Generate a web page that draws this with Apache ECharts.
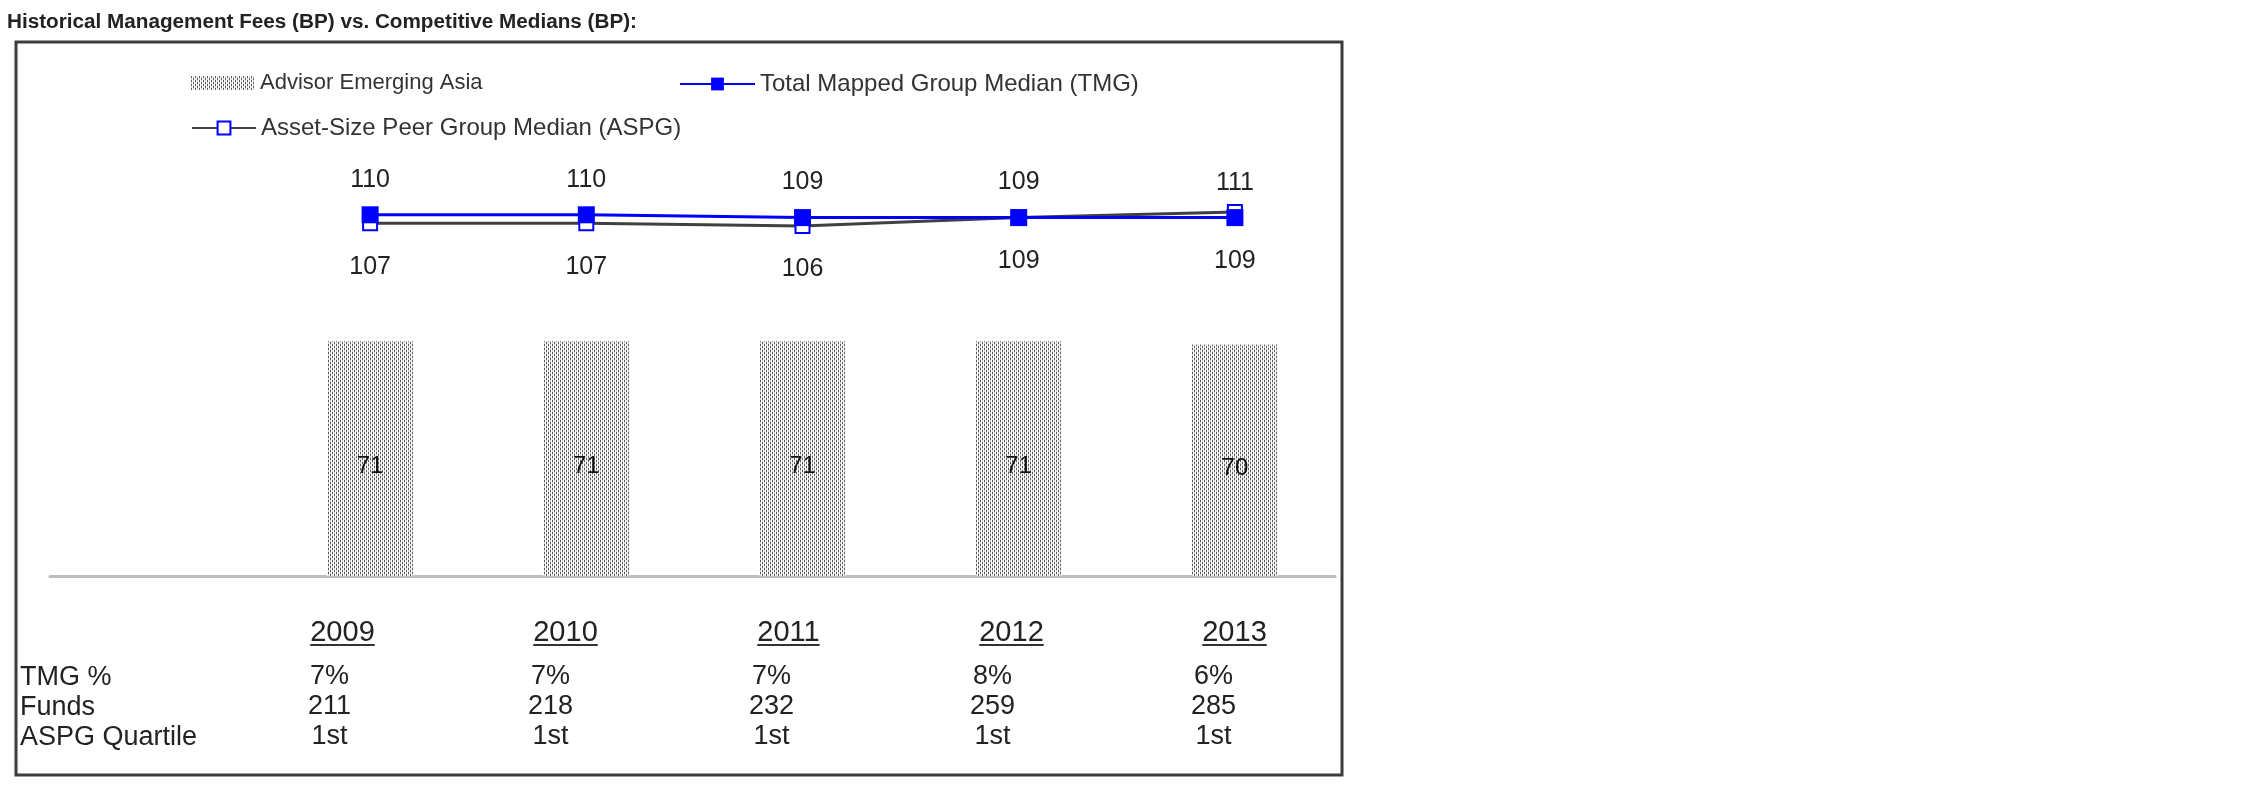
<!DOCTYPE html>
<html><head><meta charset="utf-8">
<script src="https://cdn.jsdelivr.net/npm/echarts@6/dist/echarts.min.js"></script>
<style>html,body{margin:0;padding:0;background:#fff}#c{width:2250px;height:796px}</style>
</head><body><div id="c"></div>
<script>
// ---- data ----
const years = ['2009', '2010', '2011', '2012', '2013'];
const advisorFees = [71, 71, 71, 71, 70];
const tmgMedian = [110, 110, 109, 109, 109];
const aspgMedian = [107, 107, 106, 109, 111];
const tmgPct = ['7%', '7%', '7%', '8%', '6%'];
const funds = ['211', '218', '232', '259', '285'];
const aspgQuartile = ['1st', '1st', '1st', '1st', '1st'];
const rowLabels = ['TMG %', 'Funds', 'ASPG Quartile'];
const titleText = 'Historical Management Fees (BP) vs. Competitive Medians (BP):';
const seriesNames = ['Advisor Emerging Asia', 'Total Mapped Group Median (TMG)', 'Asset-Size Peer Group Median (ASPG)'];

const FONT = 'Arial, "Liberation Sans", sans-serif';

function makePattern() {
  const c = document.createElement('canvas');
  c.width = 4; c.height = 4;
  const g = c.getContext('2d');
  g.fillStyle = '#ffffff'; g.fillRect(0, 0, 4, 4);
  g.fillStyle = '#5a5a5a'; g.fillRect(0, 0, 1, 2); g.fillRect(2, 2, 1, 2);
  g.fillStyle = '#d0d0d0'; g.fillRect(2, 0, 1, 2); g.fillRect(0, 2, 1, 2);
  return c;
}
const pattern = { image: makePattern(), repeat: 'repeat' };

// label placement: higher value above, lower below
const tmgData = tmgMedian.map((v, i) => {
  const up = v >= aspgMedian[i];
  return { value: v, label: { position: up ? 'top' : 'bottom', distance: up ? 14 : 23 } };
});
const aspgData = aspgMedian.map((v, i) => {
  const up = v > tmgMedian[i];
  return { value: v, label: { position: up ? 'top' : 'bottom', distance: up ? 8 : 23 } };
});

const chart = echarts.init(document.getElementById('c'), null, { renderer: 'canvas' });

const hiddenY = (g) => ({ type: 'value', gridIndex: g, min: 0, max: 1, show: false });
const tableAxis = (g, data, offset, fs) => ({
  type: 'category', gridIndex: g, data: data, position: 'bottom', offset: offset,
  axisLine: { show: false, onZero: false }, axisTick: { show: false }, splitLine: { show: false },
  axisLabel: { margin: 0, fontSize: fs, color: '#222', fontFamily: FONT, interval: 0 }
});

const legendText = (fs) => ({ fontSize: fs, color: '#333', fontFamily: FONT });

const option = {
  backgroundColor: '#ffffff',
  animation: false,
  textStyle: { fontFamily: FONT },
  title: {
    text: titleText, left: 7, top: 12, padding: 0,
    textStyle: { fontSize: 20.7, fontWeight: 'bold', color: '#222', fontFamily: FONT }
  },
  legend: [
    { data: [seriesNames[0]], left: 191, top: 72, padding: 0, itemWidth: 64, itemHeight: 14, icon: 'rect',
      itemGap: 6, textStyle: legendText(22) },
    { data: [seriesNames[1]], left: 679, top: 72, padding: 0, itemWidth: 75, itemHeight: 16,
      textStyle: legendText(24) },
    { data: [seriesNames[2]], left: 191, top: 116, padding: 0, itemWidth: 64, itemHeight: 16,
      textStyle: legendText(24) }
  ],
  grid: [
    { left: 262, width: 1081, top: 100, height: 476 },
    { left: 50, width: 1285, top: 100, height: 476 },
    { left: 231, width: 1115, top: 100, height: 476 },
    { left: 219, width: 1105, top: 100, height: 476 }
  ],
  xAxis: [
    { type: 'category', gridIndex: 0, data: years, show: false, axisLine: { onZero: false } },
    { type: 'value', gridIndex: 1, min: 0, max: 1, position: 'bottom',
      axisLine: { show: true, onZero: false, lineStyle: { color: '#bdbdbd', width: 3 } },
      axisTick: { show: false }, axisLabel: { show: false }, splitLine: { show: false } },
    tableAxis(2, years, 42, 29),
    tableAxis(3, tmgPct, 87, 27),
    tableAxis(3, funds, 117, 27),
    tableAxis(3, aspgQuartile, 147, 27)
  ],
  yAxis: [
    { type: 'value', gridIndex: 0, min: 0, max: 144, show: false },
    { type: 'value', gridIndex: 0, min: -19, max: 151, show: false },
    hiddenY(1), hiddenY(2), hiddenY(3)
  ],
  series: [
    {
      name: seriesNames[0], type: 'bar', xAxisIndex: 0, yAxisIndex: 0,
      data: advisorFees, barWidth: 86,
      itemStyle: { color: pattern },
      label: { show: true, position: 'inside', offset: [0, 8], fontSize: 24, color: '#111', fontFamily: FONT }
    },
    {
      name: seriesNames[1], type: 'line', xAxisIndex: 0, yAxisIndex: 1, z: 4,
      data: tmgData, symbol: 'rect', symbolSize: 17,
      itemStyle: { color: '#0000ff' },
      lineStyle: { color: '#0000ff', width: 3 },
      label: { show: true, fontSize: 25, color: '#222', fontFamily: FONT }
    },
    {
      name: seriesNames[2], type: 'line', xAxisIndex: 0, yAxisIndex: 1, z: 3,
      data: aspgData, symbol: 'rect', symbolSize: 14,
      itemStyle: { color: '#ffffff', borderColor: '#0000ff', borderWidth: 2 },
      lineStyle: { color: '#404040', width: 3 },
      label: { show: true, fontSize: 25, color: '#222', fontFamily: FONT }
    }
  ]
};
chart.setOption(option);

// decorations: frame, row labels, year underlines
const meas = document.createElement('canvas').getContext('2d');
meas.font = '29px ' + FONT;
const graphics = [
  { type: 'rect', shape: { x: 16, y: 42, width: 1326, height: 733 }, silent: true,
    style: { fill: null, stroke: '#3c3c3c', lineWidth: 3 }, z: 10 }
];
const rowY = [674.5, 704.6, 734.7];
rowLabels.forEach((t, i) => {
  graphics.push({ type: 'text', left: 20, top: rowY[i] - 10.5, silent: true,
    style: { text: t, fontSize: 27, fill: '#222', fontFamily: FONT } });
});
years.forEach((y) => {
  const px = chart.convertToPixel({ xAxisIndex: 2 }, y);
  const w = meas.measureText(y).width;
  graphics.push({ type: 'rect', silent: true, shape: { x: px - w / 2, y: 644, width: w, height: 2 },
    style: { fill: '#333' } });
});
chart.setOption({ graphic: graphics });
</script>
</body></html>
